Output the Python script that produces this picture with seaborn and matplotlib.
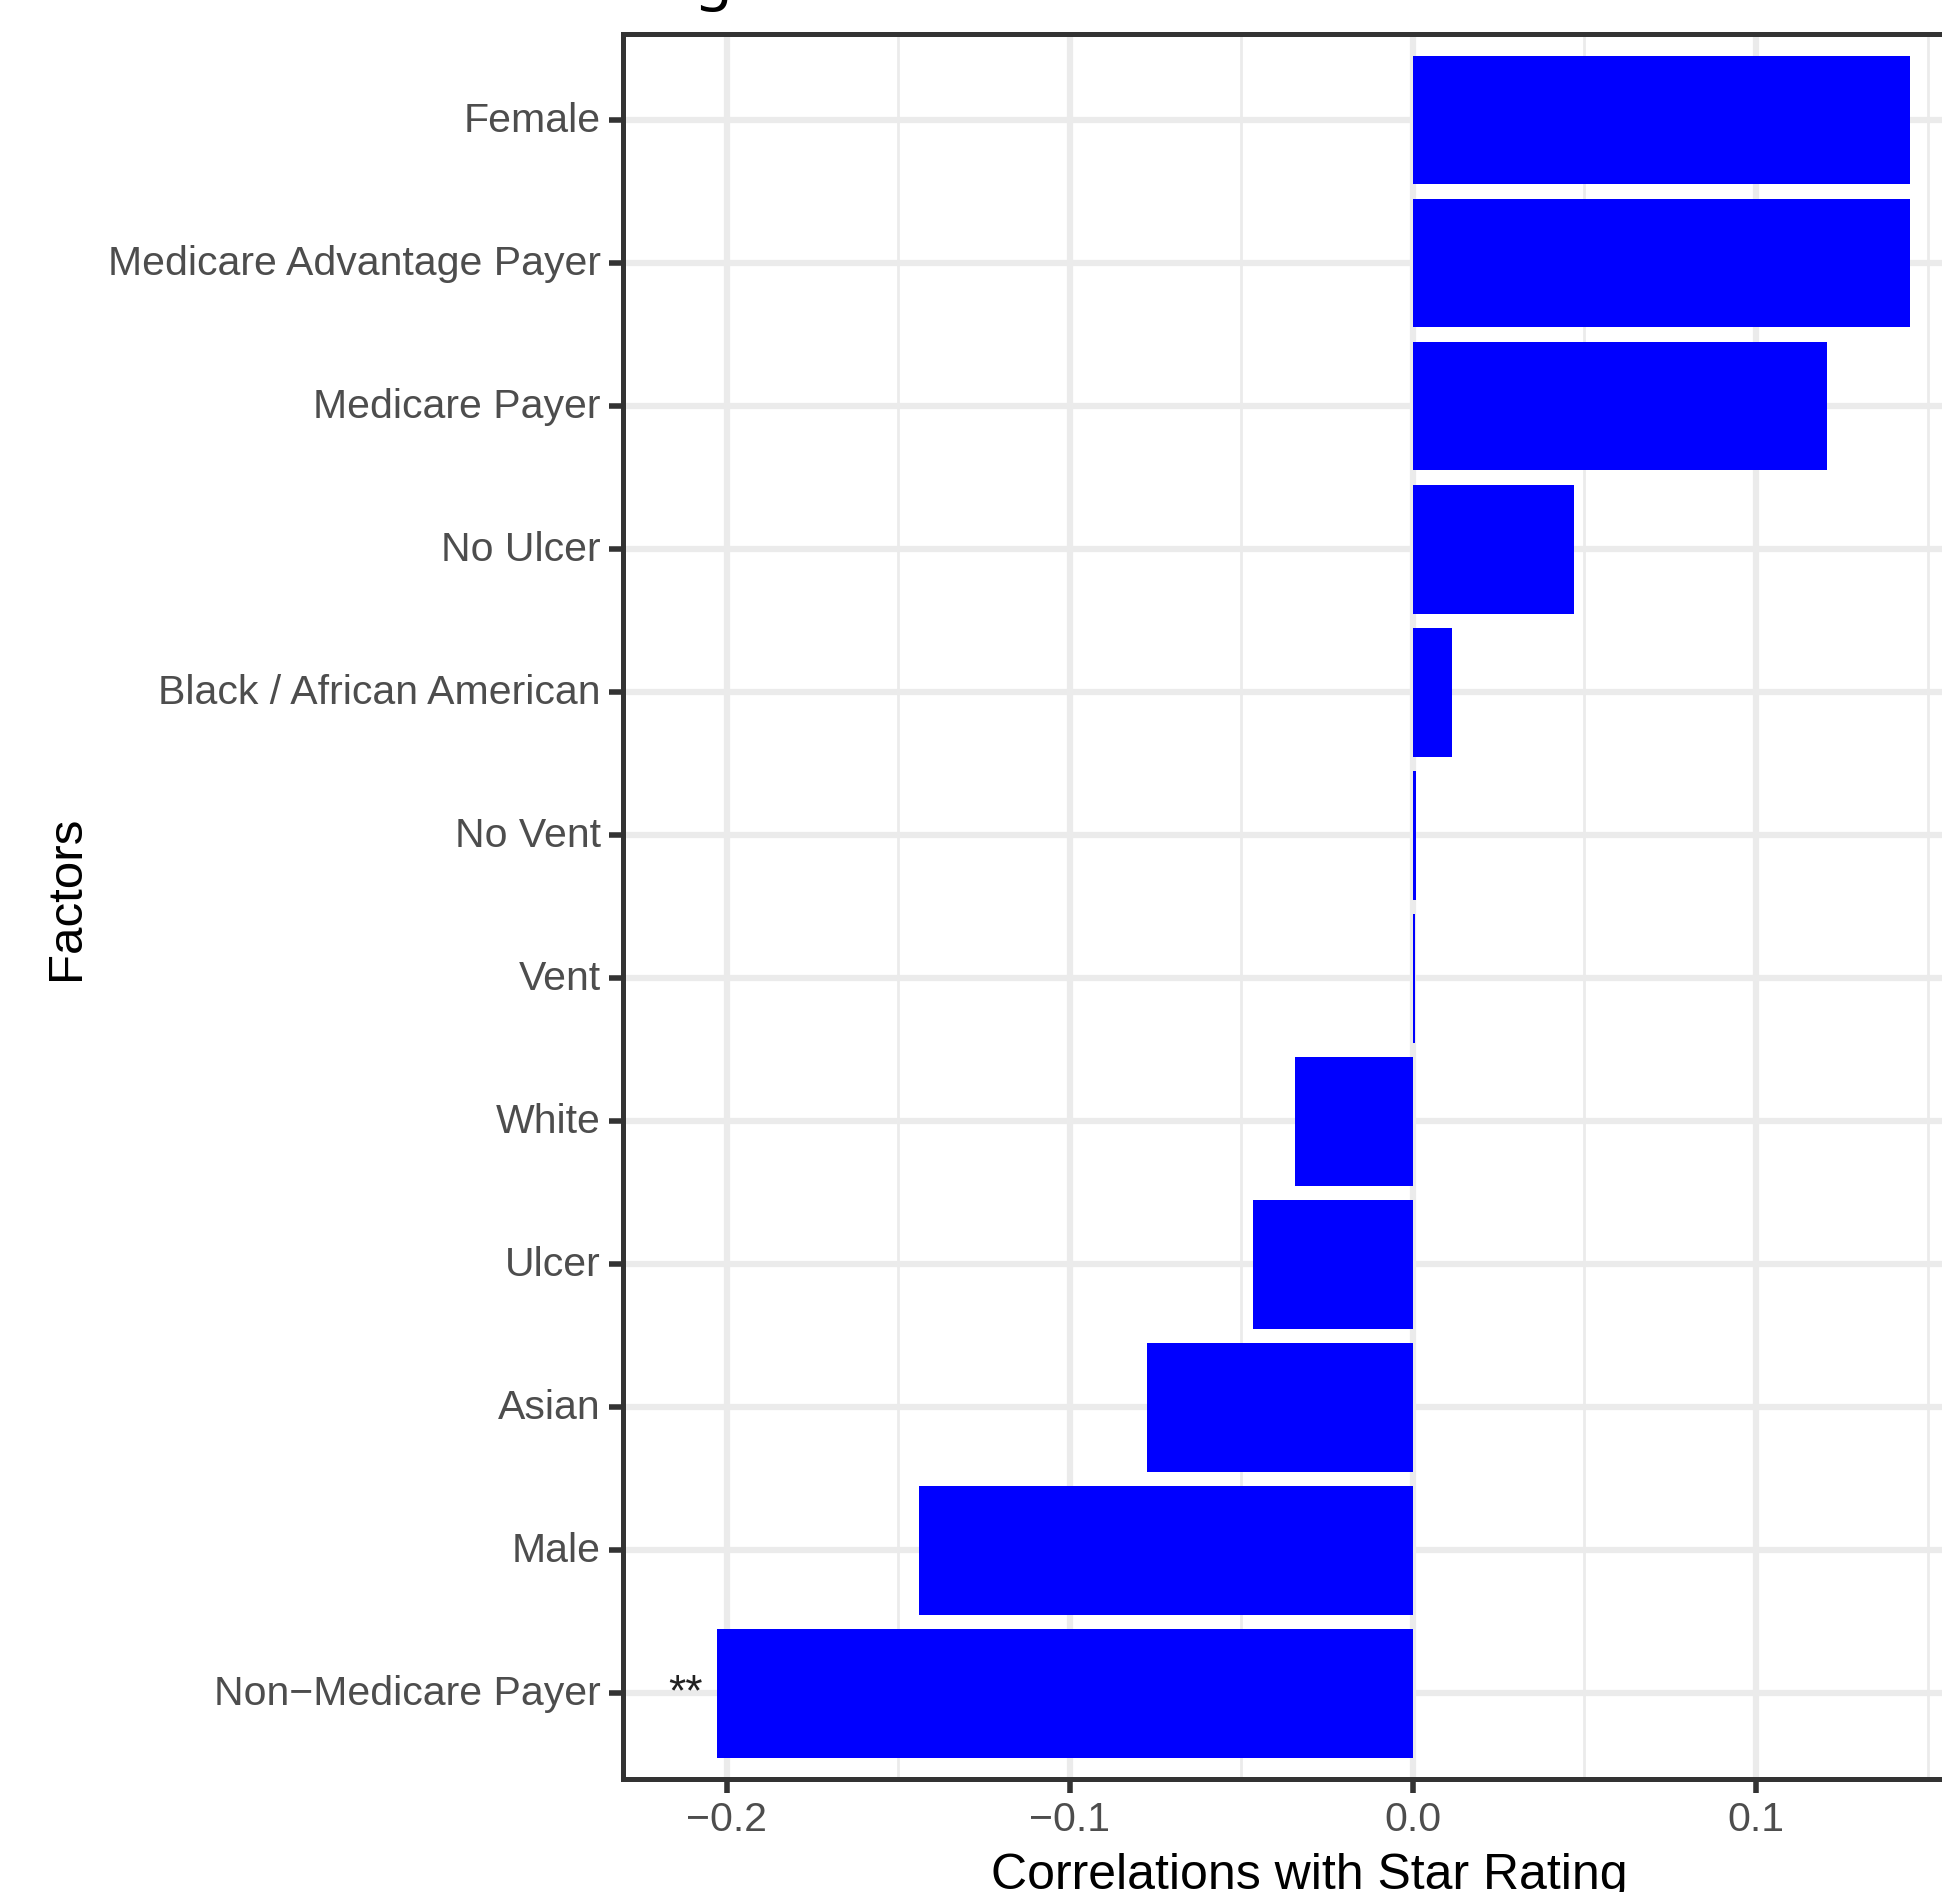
import matplotlib
matplotlib.use("Agg")
import matplotlib.pyplot as plt
import matplotlib.transforms as mtransforms
from matplotlib.ticker import MultipleLocator
import seaborn as sns
import pandas as pd

# Correlation of each patient factor with the facility star rating
factors = [
    "Female",
    "Medicare Advantage Payer",
    "Medicare Payer",
    "No Ulcer",
    "Black / African American",
    "No Vent",
    "Vent",
    "White",
    "Ulcer",
    "Asian",
    "Male",
    "Non\u2212Medicare Payer",
]
correlations = [0.1449, 0.1449, 0.1207, 0.0469, 0.0114, 0.0008, 0.0007,
                -0.0343, -0.0466, -0.0776, -0.1440, -0.2029]
# significance markers per factor
significance = ["", "", "", "", "", "", "", "", "", "", "", "**"]

df = pd.DataFrame({"factor": factors, "corr": correlations})

sns.set_theme(style="white")
plt.rcParams["font.family"] = ["Liberation Sans", "DejaVu Sans"]

fig = plt.figure(figsize=(19.42, 18.92), dpi=100)
ax = fig.add_axes([0.3208, 0.0596, 0.7106, 0.9223])

sns.barplot(data=df, x="corr", y="factor", order=factors, orient="h",
            color="#0000FF", saturation=1, width=0.9, edgecolor="none",
            ax=ax, zorder=3)

ax.set_xlim(-0.2303, 0.172)
ax.set_ylim(len(factors) - 0.4, -0.6)

ax.xaxis.set_major_locator(MultipleLocator(0.1))
ax.xaxis.set_minor_locator(MultipleLocator(0.05))
ax.set_axisbelow(True)
ax.grid(which="major", axis="both", color="#EBEBEB", linewidth=4.5, zorder=0)
ax.grid(which="minor", axis="x", color="#EBEBEB", linewidth=2.0, zorder=0)

ax.xaxis.set_major_formatter(plt.FuncFormatter(lambda v, p: f"{v:.1f}".replace("-", "\u2212")))

ax.tick_params(axis="both", which="major", length=10, width=4, color="#333333",
               labelcolor="#4D4D4D", labelsize=29.5, pad=6, left=True, bottom=True)
ax.tick_params(axis="x", which="minor", length=0)
lift = mtransforms.ScaledTranslation(0, 3 / 100, fig.dpi_scale_trans)
for lbl in ax.get_yticklabels():
    lbl.set_va("center_baseline")
    lbl.set_transform(lbl.get_transform() + lift)

for s in ax.spines.values():
    s.set_visible(True)
    s.set_color("#333333")
    s.set_linewidth(3.6)

# significance stars just left of each bar end
for i, (v, mark) in enumerate(zip(correlations, significance)):
    if mark:
        ax.text(v - 0.0093, i, mark, ha="center", va="center",
                fontsize=32, color="#222222", zorder=4)

ax.set_xlabel("Correlations with Star Rating", fontsize=36, color="black")
ax.xaxis.set_label_coords(0.497, -0.0628)
ax.xaxis.label.set_va("baseline")

ax.set_ylabel("Factors", fontsize=35.5, color="black")
ax.yaxis.set_label_coords(-0.4029, 0.505)
ax.yaxis.label.set_va("center")

# chart title, sitting above the top edge of the canvas
fig.text(733 / 1942, 1 + 3 / 1892, "Correlations with Star Rating",
         ha="right", va="baseline", fontsize=44, family=["Noto Sans", "DejaVu Sans"],
         color="black")

fig.savefig("out.png", dpi=100)
